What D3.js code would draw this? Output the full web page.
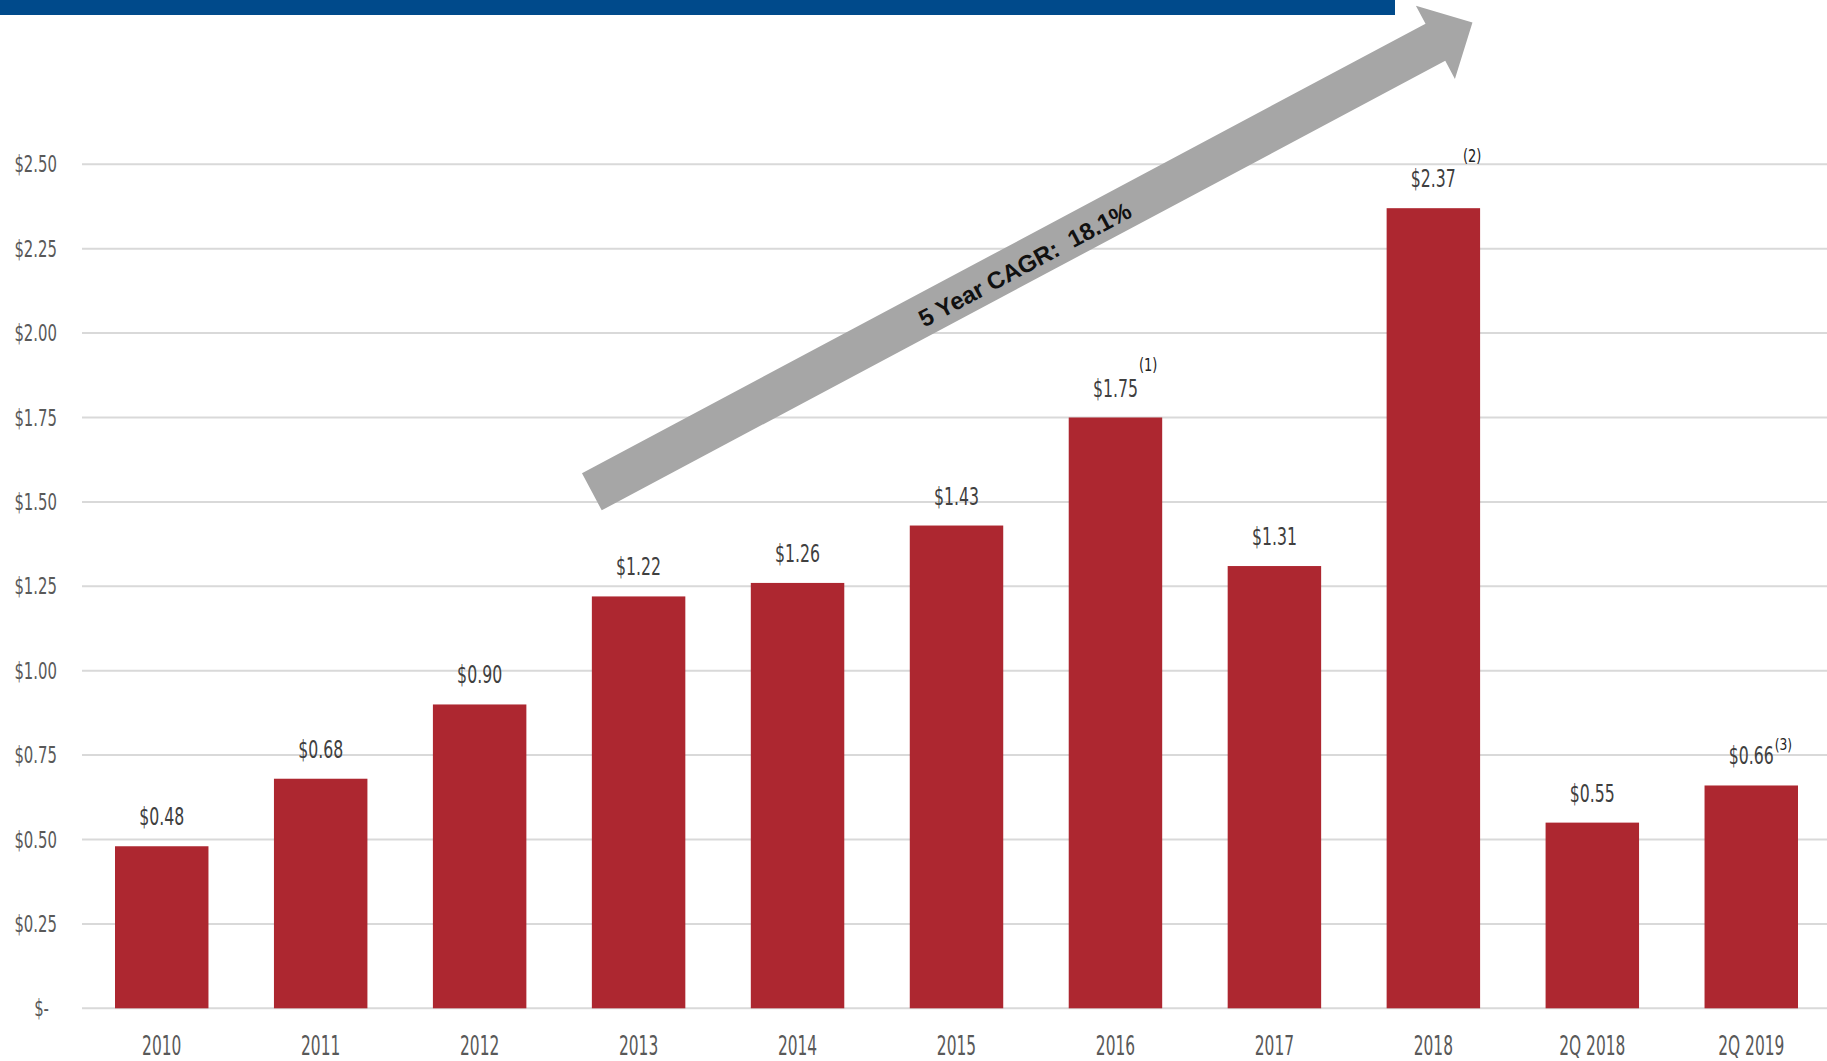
<!DOCTYPE html>
<html>
<head>
<meta charset="utf-8">
<script src="https://cdn.jsdelivr.net/npm/d3@7"></script>
<style>
  html, body { margin: 0; padding: 0; background: #ffffff; }
  svg { display: block; }
</style>
</head>
<body>
<script>
// ---------------- data ----------------
const categories = ["2010", "2011", "2012", "2013", "2014", "2015", "2016", "2017", "2018", "2Q 2018", "2Q 2019"];
const values = [0.48, 0.68, 0.90, 1.22, 1.26, 1.43, 1.75, 1.31, 2.37, 0.55, 0.66];
const yTicks = [0, 0.25, 0.50, 0.75, 1.00, 1.25, 1.50, 1.75, 2.00, 2.25, 2.50];
const footnoteCategories = ["2016", "2018", "2Q 2019"];
const footnoteMarks = ["(1)", "(2)", "(3)"];
const cagrText = "5 Year CAGR:  18.1%";
const arrowStart = { category: "2013", bandShift: 0.0, value: 1.53 };
const arrowEnd = { category: "2018", bandShift: 0.54, value: 2.92 };

// ---------------- layout / style ----------------
const W = 1827, H = 1061;
const plotTop = 164.3, plotBottom = 1008.3;
const gridLeft = 82, gridRight = W;
const barsLeft = 115, barsRight = 1798;
const barColor = "#ad2730";
const narrow = "'Liberation Sans Narrow', 'Arial Narrow', 'DejaVu Sans Condensed', sans-serif";
const squeezeY = 0.72, squeezeV = 0.70, squeezeX = 0.66;
const noteStyle = {
  "(1)": { gap: 1, rise: 26, size: 17 },
  "(2)": { gap: 7, rise: 25, size: 17 },
  "(3)": { gap: 1, rise: 14, size: 16 }
};

const svg = d3.select("body").append("svg")
  .attr("width", W).attr("height", H)
  .attr("viewBox", `0 0 ${W} ${H}`);

svg.append("rect").attr("width", W).attr("height", H).attr("fill", "#ffffff");

// top blue banner
svg.append("rect")
  .attr("x", 0).attr("y", 0).attr("width", 1395).attr("height", 15)
  .attr("fill", "#004a8b");

const x = d3.scaleBand().domain(categories).range([barsLeft, barsRight])
  .paddingInner(0.412).paddingOuter(0);
const y = d3.scaleLinear().domain([0, 2.5]).range([plotBottom, plotTop]);

const money = d3.format("$.2f");
const tickFmt = v => v === 0 ? "$-" : money(v);

// gridlines
svg.append("g").selectAll("line").data(yTicks).join("line")
  .attr("x1", gridLeft).attr("x2", gridRight)
  .attr("y1", d => y(d)).attr("y2", d => y(d))
  .attr("stroke", "#d9d9d9").attr("stroke-width", 2);

// y tick labels
svg.append("g").selectAll("text").data(yTicks).join("text")
  .attr("transform", d => `translate(${d === 0 ? 49 : 57},${y(d) + 8}) scale(${squeezeY},1)`)
  .attr("text-anchor", "end")
  .attr("font-family", narrow).attr("font-size", 23)
  .attr("fill", "#595959")
  .text(tickFmt);

// bars
const rows = categories.map((c, i) => ({ cat: c, value: values[i] }));
svg.append("g").selectAll("rect").data(rows).join("rect")
  .attr("x", d => x(d.cat)).attr("width", x.bandwidth())
  .attr("y", d => y(d.value)).attr("height", d => y(0) - y(d.value))
  .attr("fill", barColor);

// x labels
svg.append("g").selectAll("text").data(categories).join("text")
  .attr("transform", d => `translate(${x(d) + x.bandwidth() / 2},1055) scale(${squeezeX},1)`)
  .attr("text-anchor", "middle")
  .attr("font-family", narrow).attr("font-size", 26)
  .attr("fill", "#595959")
  .text(d => d);

// value labels
const vl = svg.append("g").selectAll("text").data(rows).join("text")
  .attr("transform", d => `translate(${x(d.cat) + x.bandwidth() / 2},${y(d.value) - 21}) scale(${squeezeV},1)`)
  .attr("text-anchor", "middle")
  .attr("font-family", narrow).attr("font-size", 25)
  .attr("fill", "#404040")
  .text(d => money(d.value));

// footnote marks
const labelWidth = {};
vl.each(function (d) { labelWidth[d.cat] = this.getComputedTextLength() * squeezeV; });
const notes = footnoteCategories.map((c, i) => ({ cat: c, mark: footnoteMarks[i], value: values[categories.indexOf(c)] }));
svg.append("g").selectAll("text").data(notes).join("text")
  .attr("transform", d => `translate(${x(d.cat) + x.bandwidth() / 2 + labelWidth[d.cat] / 2 + noteStyle[d.mark].gap},${y(d.value) - 21 - noteStyle[d.mark].rise}) scale(0.85,1)`)
  .attr("font-family", narrow).attr("font-size", d => noteStyle[d.mark].size)
  .attr("fill", "#222222")
  .text(d => d.mark);

// CAGR arrow
const T = [x(arrowStart.category) + arrowStart.bandShift * x.step(), y(arrowStart.value)];
const P = [x(arrowEnd.category) + arrowEnd.bandShift * x.step(), y(arrowEnd.value)];
const len = Math.hypot(P[0] - T[0], P[1] - T[1]);
const u = [(P[0] - T[0]) / len, (P[1] - T[1]) / len];
const n = [-u[1], u[0]];
const headLen = 42, shaftHalf = 21, headHalf = 41.5;
const B = [P[0] - u[0] * headLen, P[1] - u[1] * headLen];
const pt = (base, k) => [base[0] + n[0] * k, base[1] + n[1] * k];
const arrowPts = [pt(T, -shaftHalf), pt(B, -shaftHalf), pt(B, -headHalf), P, pt(B, headHalf), pt(B, shaftHalf), pt(T, shaftHalf)];
svg.append("path")
  .attr("d", d3.line()(arrowPts) + "Z")
  .attr("fill", "#a6a6a6");

const angle = Math.atan2(u[1], u[0]) * 180 / Math.PI;
const tc = [T[0] + u[0] * len * 0.49 + n[0] * 3, T[1] + u[1] * len * 0.49 + n[1] * 3];
svg.append("text")
  .attr("transform", `translate(${tc[0]},${tc[1]}) rotate(${angle})`)
  .attr("text-anchor", "middle").attr("dominant-baseline", "central")
  .attr("font-family", "'Liberation Sans', Arial, sans-serif")
  .attr("font-weight", "bold").attr("font-size", 24)
  .attr("fill", "#111111")
  .attr("xml:space", "preserve").style("white-space", "pre")
  .text(cagrText);
</script>
</body>
</html>
